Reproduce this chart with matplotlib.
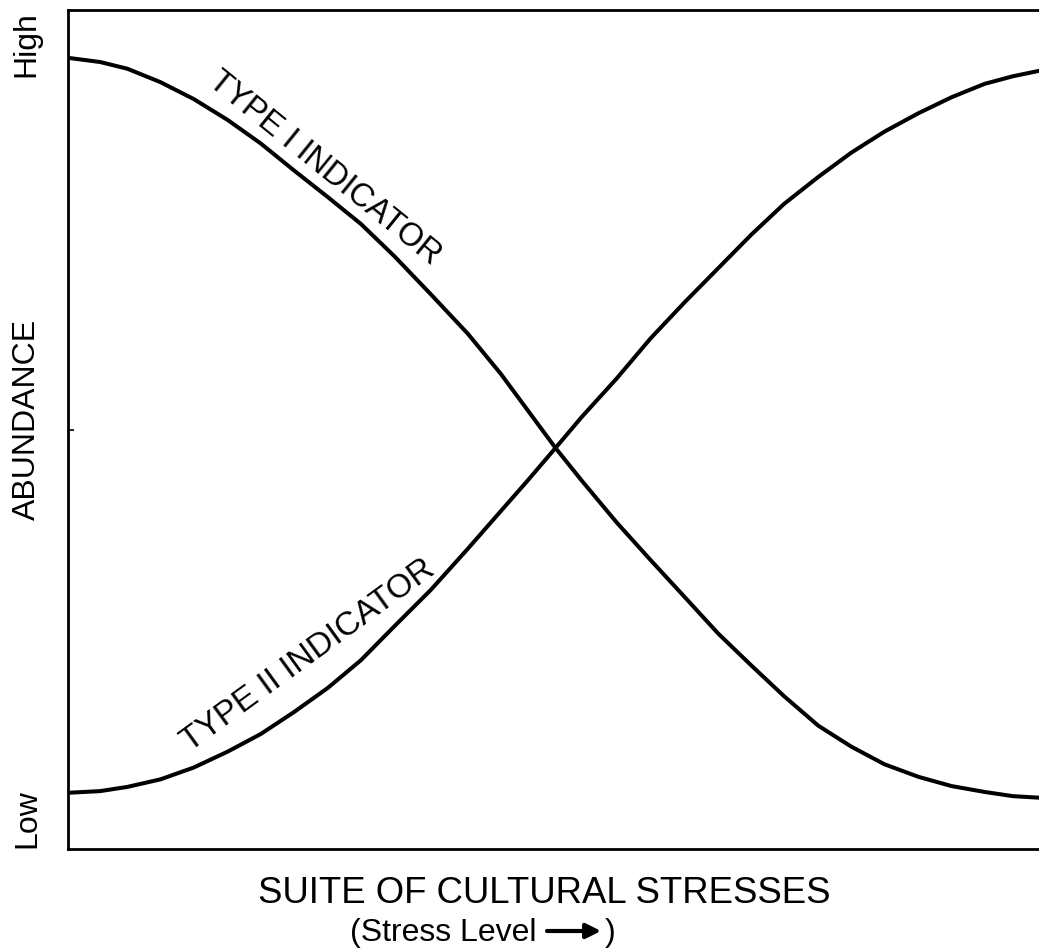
import numpy as np
import matplotlib
matplotlib.use('Agg')
import matplotlib.pyplot as plt

plt.rcParams['font.family'] = ['Liberation Sans', 'DejaVu Sans']

# stress level (0-100) and abundance (0-100)
stress = [0, 3.3, 6.1, 9.5, 12.9, 16.4, 19.8, 23.2, 26.7, 30.1, 33.5, 37.3, 41.1, 44.5, 47.3,
          50.1, 52.8, 56.4, 59.9, 63.4, 66.8, 70.2, 73.6, 77.1, 80.5, 83.9, 87.4, 90.8, 94.2,
          97.1, 100]
type1 = [94.3, 93.8, 93.0, 91.4, 89.4, 86.9, 84.1, 80.9, 77.7, 74.5, 70.7, 66.1, 61.4, 56.6, 52.2,
         47.8, 43.9, 38.9, 34.4, 30.0, 25.7, 21.9, 18.2, 14.7, 12.2, 10.1, 8.6, 7.5, 6.8,
         6.3, 6.1]
type2 = [6.7, 6.9, 7.4, 8.3, 9.7, 11.6, 13.7, 16.3, 19.2, 22.5, 26.5, 30.9, 35.8, 40.3, 44.0,
         47.8, 51.5, 56.1, 60.9, 65.2, 69.2, 73.2, 76.9, 80.1, 83.0, 85.5, 87.7, 89.6, 91.2,
         92.1, 92.8]

W, H = 1039, 949
fig = plt.figure(figsize=(W/100, H/100), dpi=100, facecolor='w')
ax = fig.add_axes([68/W, 1-849/H, 1-68/W+0.002, (849-10)/H])

ax.plot(stress, type1, color='k', lw=2.9, solid_joinstyle='round')
ax.plot(stress, type2, color='k', lw=2.9, solid_joinstyle='round')

ax.set_xlim(0, 100)
ax.set_ylim(0, 100)
ax.spines['right'].set_visible(False)
for s in ['left', 'top', 'bottom']:
    ax.spines[s].set_linewidth(2.0)
ax.set_xticks([])
ax.set_yticks([50])
ax.set_yticklabels([])
ax.tick_params(axis='y', direction='in', length=4, width=1.2)

# curve labels
ax.text(26.4, 81.1, 'TYPE I INDICATOR', rotation=-39, rotation_mode='anchor',
        ha='center', va='center', fontsize=23.5)
ax.text(24.7, 23.0, 'TYPE II INDICATOR', rotation=36, rotation_mode='anchor',
        ha='center', va='center', fontsize=24)

# axis annotations
fig.text(26/W, 1-44/H, 'High', rotation=90, ha='center', va='center', fontsize=23)
fig.text(27/W, 1-819/H, 'Low', rotation=90, ha='center', va='center', fontsize=23)
fig.text(27/W, 1-419/H, 'ABUNDANCE', rotation=90, ha='center', va='center', fontsize=23)
fig.text(544/W, 1-903/H, 'SUITE OF CULTURAL STRESSES', ha='center', va='baseline', fontsize=26.3)
fig.text(350/W, 1-941/H, '(Stress Level', ha='left', va='baseline', fontsize=23)
fig.text(605/W, 1-941/H, ')', ha='left', va='baseline', fontsize=23)
ax.annotate('', xy=(601/W, 1-931/H), xytext=(547/W, 1-931/H),
            xycoords='figure fraction', textcoords='figure fraction',
            arrowprops=dict(arrowstyle='-|>', lw=3, mutation_scale=22, color='k',
                            shrinkA=0, shrinkB=0))

plt.savefig('out.png', dpi=100)
